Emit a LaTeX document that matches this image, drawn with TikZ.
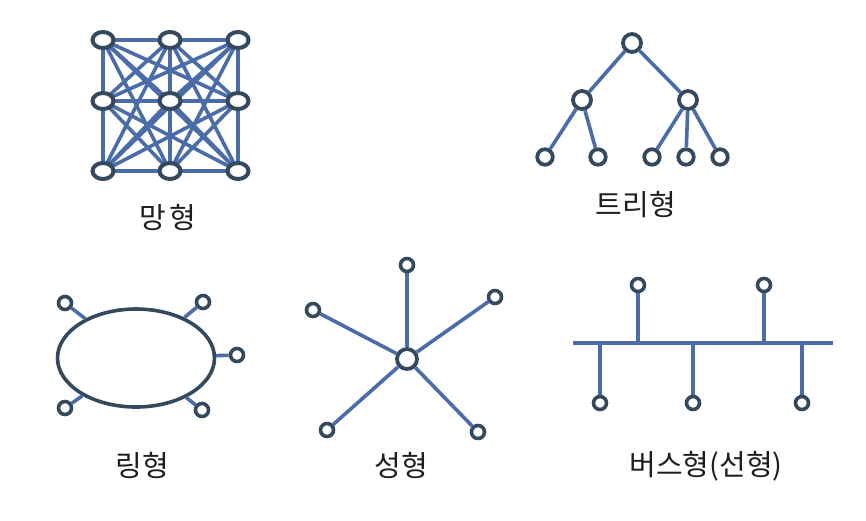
\documentclass[tikz,border=0pt]{standalone}
\usepackage{fontspec}
\setmainfont{Noto Sans CJK KR}
\usetikzlibrary{shapes.geometric,backgrounds}
\definecolor{edgecol}{HTML}{4A6DAA}
\definecolor{nodecol}{HTML}{34495E}
\definecolor{txtcol}{HTML}{1E1E1E}
\tikzset{
  meshnd/.style={ellipse,draw=nodecol,line width=4pt,fill=white,minimum width=21pt,minimum height=16pt,inner sep=0pt},
  treend/.style={circle,draw=nodecol,line width=3.8pt,fill=white,minimum size=18pt,inner sep=0pt},
  leafnd/.style={circle,draw=nodecol,line width=3.8pt,fill=white,minimum size=15.5pt,inner sep=0pt},
  smallnd/.style={circle,draw=nodecol,line width=3.6pt,fill=white,minimum size=13pt,inner sep=0pt},
  link/.style={draw=edgecol,line width=3.6pt},
  lbl/.style={text=txtcol,font=\fontsize{29}{32}\selectfont,inner sep=0pt}
}
\begin{document}
\begin{tikzpicture}[x=1pt,y=-1pt]
\useasboundingbox (0,0) rectangle (866,520);
\begin{scope}[on background layer]
\fill[white] (0,0) rectangle (866,520);
\end{scope}
% ---- mesh ----
\node[meshnd] (m1) at (103,40) {};
\node[meshnd] (m2) at (170,40) {};
\node[meshnd] (m3) at (238,40) {};
\node[meshnd] (m4) at (103,101) {};
\node[meshnd] (m5) at (170,101) {};
\node[meshnd] (m6) at (238,101) {};
\node[meshnd] (m7) at (103,171) {};
\node[meshnd] (m8) at (170,171) {};
\node[meshnd] (m9) at (238,171) {};
\begin{scope}[on background layer]
\foreach \a in {1,...,8}{
  \pgfmathtruncatemacro{\s}{\a+1}
  \foreach \b in {\s,...,9}{
    \draw[link] (m\a.center) -- (m\b.center);
  }
}
\end{scope}
\node[lbl] (lmesh) at (168,218) {망\hspace{4pt}형};
% ---- tree ----
\node[treend] (t0) at (632,43) {};
\node[treend] (t1) at (582,100) {};
\node[treend] (t2) at (688,100) {};
\node[leafnd] (t3) at (545,157) {};
\node[leafnd] (t4) at (598,157) {};
\node[leafnd] (t5) at (652,157) {};
\node[leafnd] (t6) at (686,157) {};
\node[leafnd] (t7) at (720,157) {};
\draw[link] (t0) -- (t1);
\draw[link] (t0) -- (t2);
\draw[link] (t1) -- (t3);
\draw[link] (t1) -- (t4);
\draw[link] (t2) -- (t5);
\draw[link] (t2) -- (t6);
\draw[link] (t2) -- (t7);
\node[lbl] (ltree) at (636,205) {트리형};
% ---- ring ----
\node[ellipse,draw=nodecol,line width=3.6pt,minimum width=157pt,minimum height=98pt,inner sep=0pt] (ring) at (136,358) {};
\node[smallnd] (r1) at (65,303) {};
\node[smallnd] (r2) at (203,302) {};
\node[smallnd] (r3) at (237,355) {};
\node[smallnd] (r4) at (65,408) {};
\node[smallnd] (r5) at (202,410) {};
\foreach \r in {r1,r2,r3,r4,r5}{\draw[link] (\r) -- (ring);}
\node[lbl] (lring) at (142,465) {링형};
% ---- star ----
\node[treend,minimum size=20pt] (s0) at (407,359) {};
\node[smallnd] (s1) at (407,265) {};
\node[smallnd] (s2) at (313,310) {};
\node[smallnd] (s3) at (495,297) {};
\node[smallnd] (s4) at (327,430) {};
\node[smallnd] (s5) at (478,432) {};
\foreach \s in {s1,s2,s3,s4,s5}{\draw[link] (\s) -- (s0);}
\node[lbl] (lstar) at (401,465) {성형};
% ---- bus ----
\coordinate (busL) at (573,343);
\coordinate (busR) at (833,343);
\draw[link] (busL) -- (busR);
\node[smallnd] (b1) at (638,285) {};
\node[smallnd] (b2) at (764,285) {};
\node[smallnd] (b3) at (600,403) {};
\node[smallnd] (b4) at (693,403) {};
\node[smallnd] (b5) at (802,403) {};
\foreach \b in {b1,b2,b3,b4,b5}{\draw[link] (\b) -- (\b |- busL);}
\node[lbl] (lbus) at (706,466) {버스형(선형)};
\end{tikzpicture}
\end{document}
